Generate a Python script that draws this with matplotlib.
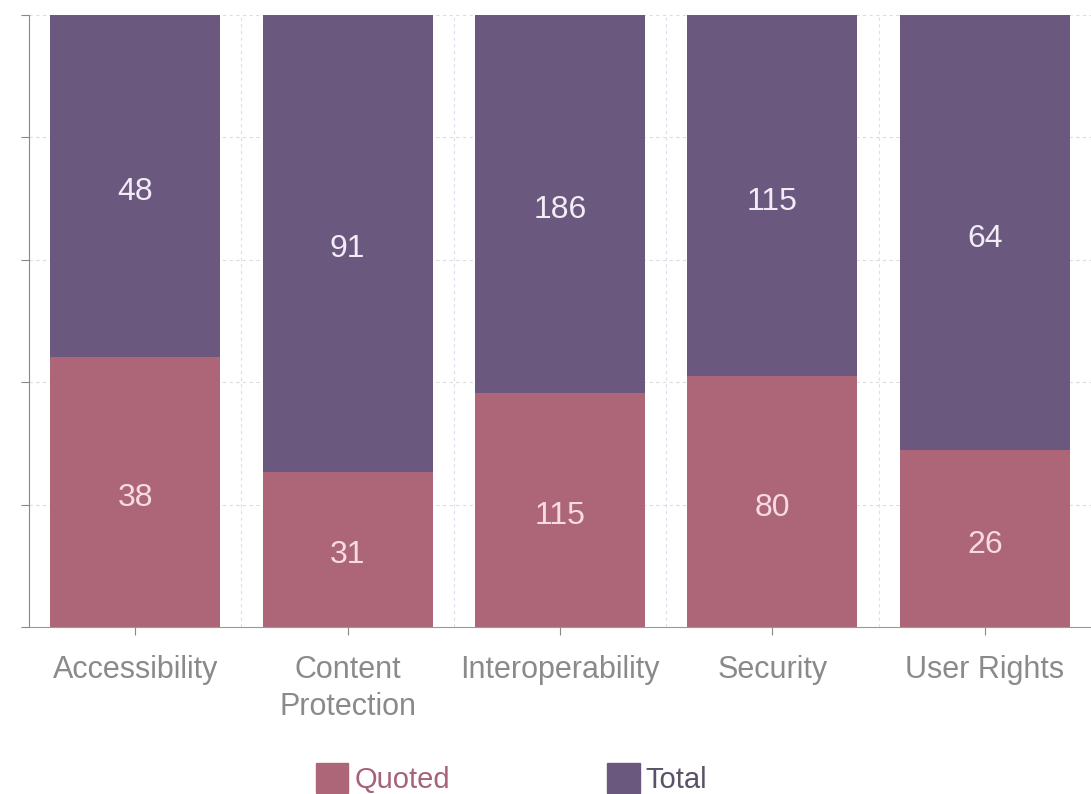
import numpy as np
import matplotlib
matplotlib.use("Agg")
import matplotlib.pyplot as plt
from matplotlib.patches import Patch

categories = ["Accessibility", "Content\nProtection", "Interoperability", "Security", "User Rights"]
quoted = [38, 31, 115, 80, 26]
total = [48, 91, 186, 115, 64]

QUOTED_COLOR = "#ad6677"
TOTAL_COLOR = "#6b587e"

plt.rcParams['font.family'] = ['Liberation Sans', 'DejaVu Sans']

q = np.array(quoted, dtype=float)
t = np.array(total, dtype=float)
s = q + t
q_pct = q / s * 100
t_pct = t / s * 100

fig = plt.figure(figsize=(10.91, 7.94), dpi=100)
ax = fig.add_axes([0.0266, 0.2103, 0.9734, 0.7708])

x = np.arange(len(categories))
ax.bar(x, q_pct, width=0.8, color=QUOTED_COLOR, zorder=2)
ax.bar(x, t_pct, width=0.8, bottom=q_pct, color=TOTAL_COLOR, zorder=2)

# value labels in the middle of each segment (slightly below centre, like the original)
for i in range(len(categories)):
    ax.text(x[i], q_pct[i] / 2 - 1, str(quoted[i]), ha='center', va='center',
            fontsize=23, color="#f7dbe4", zorder=3)
    ax.text(x[i], q_pct[i] + t_pct[i] / 2 - 1, str(total[i]), ha='center', va='center',
            fontsize=23, color="#f1ecf6", zorder=3)

ax.set_xlim(-0.5, len(categories) - 0.5)
ax.set_ylim(0, 100)
ax.set_yticks(np.arange(0, 101, 20))
ax.set_yticklabels([])
ax.set_xticks(x)
ax.set_xticklabels(categories, fontsize=22, color="#8a8a8a", linespacing=1.3)
ax.tick_params(axis='x', length=6, color="#888888", pad=14)
ax.tick_params(axis='y', length=6, color="#888888")

# dashed grid: horizontal at y ticks, vertical between categories
for yv in np.arange(20, 101, 20):
    ax.axhline(yv, color="#dddddd", linestyle=(0, (3, 3)), linewidth=0.8, zorder=1)
for xv in np.arange(0.5, len(categories) - 0.5, 1):
    ax.axvline(xv, color="#d8e0ee", linestyle=(0, (3, 3)), linewidth=0.8, zorder=1)

for side in ["top", "right"]:
    ax.spines[side].set_visible(False)
ax.spines["left"].set_color("#888888")
ax.spines["bottom"].set_color("#999999")

handles = [Patch(color=QUOTED_COLOR, label="Quoted"), Patch(color=TOTAL_COLOR, label="Total")]
leg = fig.legend(handles=handles, loc='center', bbox_to_anchor=(0.469, 0.02), ncol=2,
                 frameon=False, fontsize=21, handlelength=1.1, handleheight=1.2,
                 handletextpad=0.2, columnspacing=5.4)
leg.get_texts()[0].set_color("#a86278")
leg.get_texts()[1].set_color("#5a5266")

fig.savefig("out.png", dpi=100)
